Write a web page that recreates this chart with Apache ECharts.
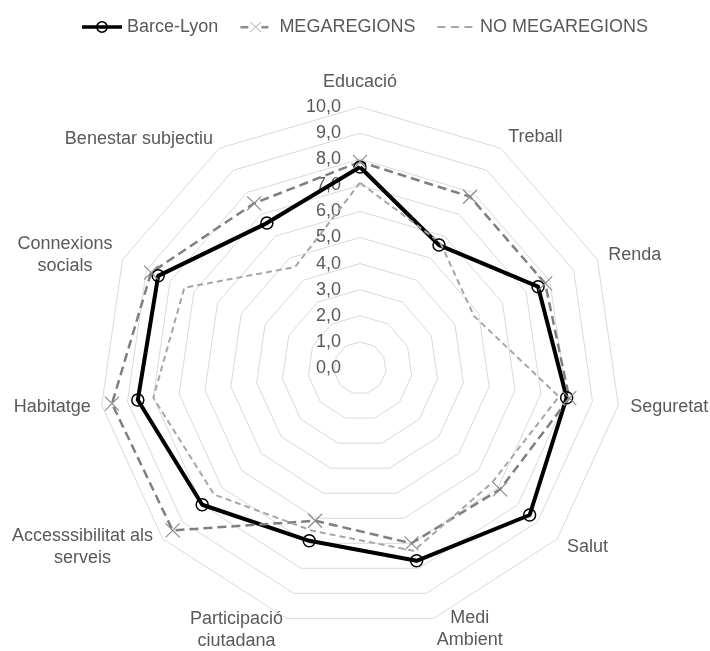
<!DOCTYPE html>
<html>
<head>
<meta charset="utf-8">
<script src="https://cdn.jsdelivr.net/npm/echarts@6/dist/echarts.min.js"></script>
<style>
  html, body { margin: 0; padding: 0; background: #fff; }
  #chart { width: 710px; height: 651px; }
</style>
</head>
<body>
<div id="chart"></div>
<script>
// Indicators in the order of the original chart (clockwise from the top)
const categories = ['Educació', 'Treball', 'Renda', 'Seguretat', 'Salut', 'Medi\nAmbient',
  'Participació\nciutadana', 'Accesssibilitat als\nserveis', 'Habitatge', 'Connexions\nsocials', 'Benestar subjectiu'];
const barceLyon = [7.7, 5.6, 7.5, 8.0, 8.6, 7.7, 6.9, 8.0, 8.6, 8.5, 6.6];
const megaregions = [7.9, 7.8, 7.8, 8.1, 7.1, 7.0, 6.1, 9.5, 9.6, 8.8, 7.5];
const noMegaregions = [7.1, 5.7, 4.8, 7.7, 6.7, 7.3, 6.5, 7.4, 8.0, 7.4, 4.6];
const seriesNames = ['Barce-Lyon', 'MEGAREGIONS', 'NO MEGAREGIONS'];
const axisMin = 0;
const axisMax = 10;

const nameGaps = [14, 13, 12, 12, 13, 11, 12, 13, 11, 11, 11];
const textColor = '#595959';
const fontFamily = '"Liberation Sans", Arial, sans-serif';

// echarts lays indicators out counter-clockwise, so reverse all but the first
const order = categories.map((c, i) => (i === 0 ? 0 : categories.length - i));
const pick = arr => order.map(i => arr[i]);

const indicators = order.map((i, k) => {
  const ind = { name: categories[i], min: axisMin, max: axisMax, nameGap: nameGaps[i] };
  if (k === 0) {
    ind.axisLabel = { show: true };
  }
  return ind;
});

// legend icons (filled paths, tiny corner points keep the bounding box)
const bbox = (w, h) => `M0,0 L0.01,0 L0,0.01 Z M${w},${h} L${w - 0.01},${h} L${w},${h - 0.01} Z`;
const iconBarce = 'path://M0,4.3 H40 V7.7 H0 Z M14,6 A6,6 0 1 1 26,6 A6,6 0 1 1 14,6 Z M15.6,6 A4.4,4.4 0 1 0 24.4,6 A4.4,4.4 0 1 0 15.6,6 Z';
const iconMega = 'path://' + bbox(28, 12) +
  ' M0,5 H8 V7.4 H0 Z M21,5 H28 V7.4 H21 Z' +
  ' M9.6,1 L10.4,1 L21,11 L20.2,11 Z M20.2,1 L21,1 L10.4,11 L9.6,11 Z';
const iconNoMega = 'path://' + bbox(35, 12) +
  ' M0,4.9 H8 V7.1 H0 Z M13.5,4.9 H21.5 V7.1 H13.5 Z M27,4.9 H35 V7.1 H27 Z';

const chart = echarts.init(document.getElementById('chart'));

chart.setOption({
  animation: false,
  textStyle: { fontFamily: fontFamily },
  legend: {
    left: 82,
    top: 18,
    padding: 0,
    itemWidth: 40,
    itemHeight: 12,
    itemGap: 22,
    selectedMode: false,
    textStyle: { color: textColor, fontSize: 18, fontFamily: fontFamily },
    data: [
      { name: seriesNames[0], icon: iconBarce, itemStyle: { color: '#000', borderWidth: 0 } },
      { name: seriesNames[1], icon: iconMega, itemStyle: { color: '#8c8c8c', borderWidth: 0 } },
      { name: seriesNames[2], icon: iconNoMega, itemStyle: { color: '#a6a6a6', borderWidth: 0 } }
    ]
  },
  radar: {
    center: [360, 368],
    radius: 261,
    startAngle: 90,
    shape: 'polygon',
    splitNumber: 10,
    indicator: indicators,
    axisName: {
      color: textColor,
      fontSize: 18,
      fontFamily: fontFamily,
      formatter: name => name.split('\n').map(s => '{c|' + s + '}').join('\n'),
      rich: {
        c: { align: 'center', color: textColor, fontSize: 18, lineHeight: 22, fontFamily: fontFamily }
      }
    },
    axisLine: { show: false },
    axisTick: { show: false },
    axisLabel: {
      show: false,
      color: textColor,
      fontSize: 18,
      fontFamily: fontFamily,
      margin: 19,
      formatter: v => Number(v).toFixed(1).replace('.', ',')
    },
    splitLine: { lineStyle: { color: '#d9d9d9', width: 1 } },
    splitArea: { show: false }
  },
  series: [{
    type: 'radar',
    silent: true,
    emphasis: { disabled: true },
    data: [
      {
        name: seriesNames[0],
        value: pick(barceLyon),
        symbol: 'circle',
        symbolSize: 12,
        lineStyle: { color: '#000', width: 4 },
        itemStyle: { color: 'rgba(0,0,0,0)', borderColor: '#000', borderWidth: 1.5 }
      },
      {
        name: seriesNames[1],
        value: pick(megaregions),
        symbol: 'path://M0,0 L10,10 M10,0 L0,10',
        symbolSize: 14,
        lineStyle: { color: '#7f7f7f', width: 2.5, type: [9, 5] },
        itemStyle: { color: 'rgba(0,0,0,0)', borderColor: '#8c8c8c', borderWidth: 1.2 }
      },
      {
        name: seriesNames[2],
        value: pick(noMegaregions),
        symbol: 'none',
        lineStyle: { color: '#a6a6a6', width: 2, type: [6, 4] },
        itemStyle: { color: '#a6a6a6' }
      }
    ]
  }]
});
</script>
</body>
</html>
